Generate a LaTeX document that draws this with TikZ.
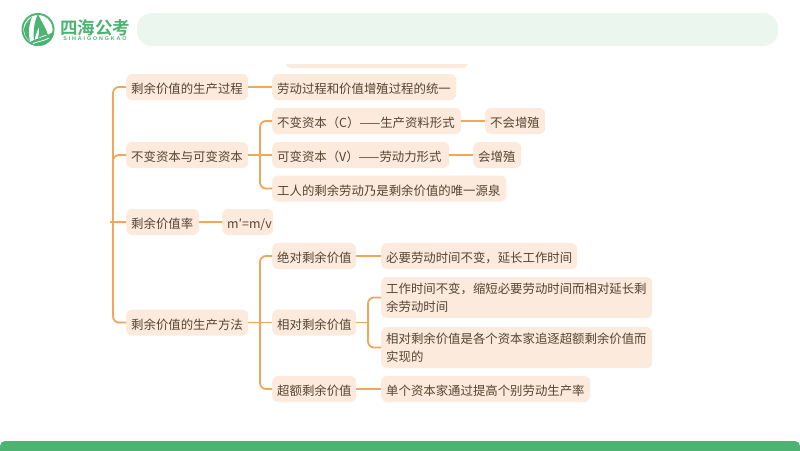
\documentclass[tikz,border=0pt]{standalone}
\usepackage{fontspec}
\setmainfont{Noto Sans CJK SC}
\newfontfamily\logofont{Noto Sans CJK SC Bold}
\newfontfamily\latinlogo[LetterSpace=34]{Liberation Sans}
\definecolor{boxfill}{HTML}{FCEBDD}
\definecolor{linecol}{HTML}{F2A65A}
\definecolor{txtcol}{HTML}{55442F}
\definecolor{brand}{HTML}{4CB372}
\definecolor{barfill}{HTML}{EAF6EE}
\tikzset{
  topicbase/.style={rounded corners=6pt,fill=boxfill,anchor=west,inner xsep=5pt,inner ysep=0pt,
    minimum height=26pt,text=txtcol,font=\fontsize{12.4pt}{16pt}\selectfont,align=left},
  topic/.style={topicbase,text height=13.5pt,text depth=0.5pt},
  topictwo/.style={topicbase,minimum height=41pt,execute at begin node={\vspace*{2pt}}},
  conn/.style={draw=linecol,line width=1.8pt,rounded corners=6pt}
}
\begin{document}
\begin{tikzpicture}[x=1pt,y=-1pt]
\useasboundingbox (0,0) rectangle (800,450);
\fill[white] (0,0) rectangle (800,450);
% header
\fill[barfill,rounded corners=15pt] (137,13) rectangle (778,46);
\fill[brand,rounded corners=5pt] (0,441) rectangle (800,460);
% logo
\fill[brand,even odd rule] (38,29.5) circle (16.5) (38,29.5) circle (14.6);
\fill[brand] (38,14) .. controls (41,21) and (46,28) .. (48,35) .. controls (44,35) and (41,36) .. (38,38) .. controls (39,33) and (40,30) .. (39,27) .. controls (38,29) and (36,33) .. (34,42) .. controls (33,32) and (34,22) .. (38,14);
\fill[brand] (32,17) .. controls (29,24) and (28,33) .. (30,41) .. controls (26,38) and (24,34) .. (24,29) .. controls (25,24) and (28,20) .. (32,17);
\fill[brand] (29,43) .. controls (37,37) and (46,38) .. (54,31) .. controls (54,40) and (46,46) .. (38,46) .. controls (35,46) and (32,45) .. (29,43);
\draw[white,line width=0.8pt] (33,43.5) .. controls (39,41) and (44,41) .. (49,38);
\node[text=brand,font=\logofont\fontsize{17.5pt}{18pt}\selectfont,inner sep=0pt] (logotext) at (95,28) {四海公考};
\node[text=brand,font=\latinlogo\bfseries\fontsize{5.4pt}{6pt}\selectfont,inner sep=0pt] (logosub) at (95,39) {SIHAIGONGKAO};
% clipped top box
\begin{scope}
\clip (270,64) rectangle (480,80);
\fill[boxfill,rounded corners=6pt] (285.5,42) rectangle (468,68);
\end{scope}
% nodes
\node[topic,text width=112pt] (n1) at (126,87) {剩余价值的生产过程};
\node[topic,text width=112pt] (n2) at (126,155) {不变资本与可变资本};
\node[topic,text width=63pt] (n3) at (126,222) {剩余价值率};
\node[topic,text width=112pt] (n4) at (126,322.5) {剩余价值的生产方法};
\node[topic,text width=174pt] (a1) at (272,87) {劳动过程和价值增殖过程的统一};
\node[topic,text width=179pt] (b1) at (272,121) {不变资本（C）——生产资料形式};
\node[topic,text width=167pt] (b2) at (272,155) {可变资本（V）——劳动力形式};
\node[topic,text width=224pt] (b3) at (272,188.5) {工人的剩余劳动乃是剩余价值的唯一源泉};
\node[topic,text width=50pt] (c1) at (485,121) {不会增殖};
\node[topic,text width=38pt] (c2) at (473,155) {会增殖};
\node[topic,text width=41pt] (d1) at (222,222) {m′=m/v};
\node[topic,text width=74pt] (e1) at (272,256) {绝对剩余价值};
\node[topic,text width=74pt] (e2) at (272,322.5) {相对剩余价值};
\node[topic,text width=74pt] (e3) at (272,389) {超额剩余价值};
\node[topic,text width=186pt] (f1) at (381,256) {必要劳动时间不变，延长工作时间};
\node[topictwo,text width=261pt] (f2) at (381,297.5) {工作时间不变，缩短必要劳动时间而相对延长剩\\余劳动时间};
\node[topictwo,text width=261pt] (f3) at (381,347.5) {相对剩余价值是各个资本家追逐超额剩余价值而\\实现的};
\node[topic,text width=199pt] (f4) at (381,389) {单个资本家通过提高个别劳动生产率};
% connector junctions
\coordinate (root) at (110,222);
\coordinate (s1) at (113,222);
\coordinate (s2) at (260,155);
\coordinate (s3) at (260,322.5);
\coordinate (s4) at (368,322.5);
% connectors
\draw[conn] (n1.west) -| (s1) |- (n4.west);
\draw[conn] (n2.west) -| (s1);
\draw[conn] (root) -- (n3.west);
\draw[conn] (n1.east) -- (a1.west);
\draw[conn] (n2.east) -- (b2.west);
\draw[conn] (b1.west) -| (s2) |- (b3.west);
\draw[conn] (b1.east) -- (c1.west);
\draw[conn] (b2.east) -- (c2.west);
\draw[conn] (n3.east) -- (d1.west);
\draw[conn] (n4.east) -- (e2.west);
\draw[conn] (e1.west) -| (s3) |- (e3.west);
\draw[conn] (e1.east) -- (f1.west);
\draw[conn] (e2.east) -- (s4);
\draw[conn] (f2.west) -| (s4) |- (f3.west);
\draw[conn] (e3.east) -- (f4.west);
\end{tikzpicture}
\end{document}
